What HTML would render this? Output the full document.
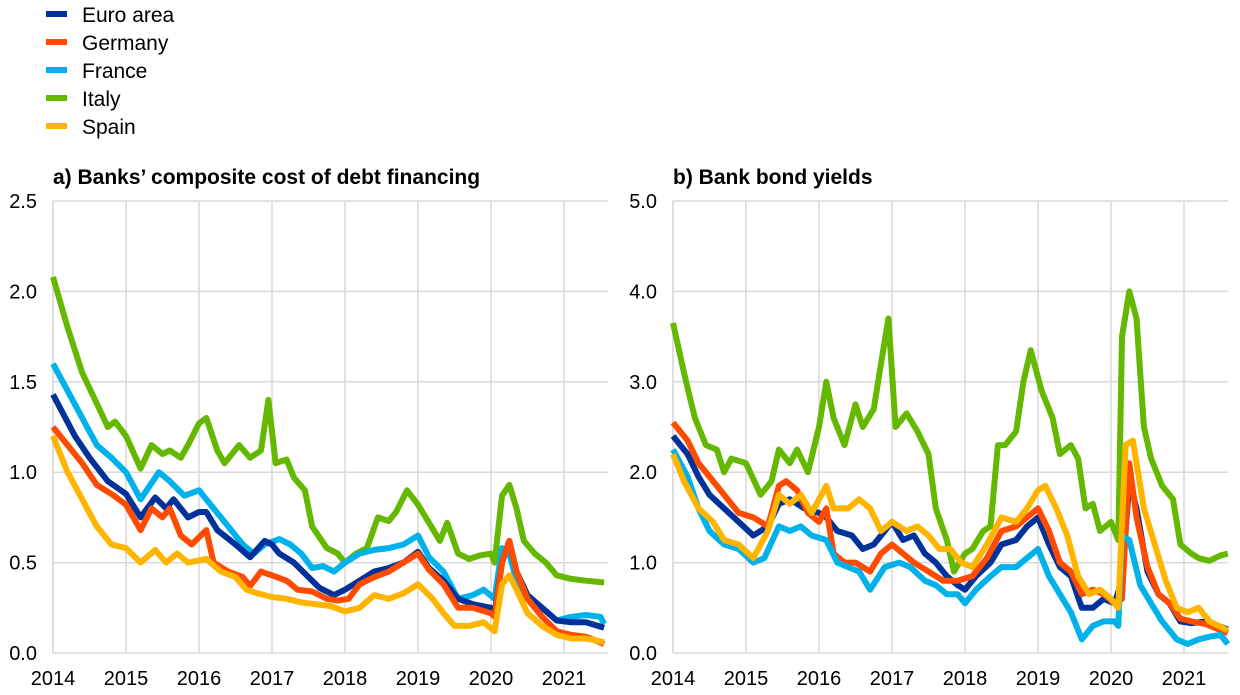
<!DOCTYPE html>
<html><head><meta charset="utf-8"><style>
body{margin:0;background:#fff;}
svg{display:block;font-family:"Liberation Sans",Arial,sans-serif;}
</style></head><body>
<svg id="s" width="1240" height="695" viewBox="0 0 1240 695" xmlns="http://www.w3.org/2000/svg">
<g font-size="21" fill="#000">
<line x1="46" y1="14" x2="67" y2="14" stroke="#003299" stroke-width="6"/><text x="82" y="22">Euro area</text>
<line x1="46" y1="42" x2="67" y2="42" stroke="#FF4B00" stroke-width="6"/><text x="82" y="50">Germany</text>
<line x1="46" y1="70" x2="67" y2="70" stroke="#00B1EA" stroke-width="6"/><text x="82" y="78">France</text>
<line x1="46" y1="98" x2="67" y2="98" stroke="#65B800" stroke-width="6"/><text x="82" y="106">Italy</text>
<line x1="46" y1="126" x2="67" y2="126" stroke="#FFB400" stroke-width="6"/><text x="82" y="134">Spain</text>
<text x="53" y="184" font-weight="bold">a) Banks’ composite cost of debt financing</text>
<text x="673" y="184" font-weight="bold">b) Bank bond yields</text>
</g>
<g id="g"></g>
</svg>
<script>
var NS="http://www.w3.org/2000/svg",g=document.getElementById("g");
function el(t,a,txt){var e=document.createElementNS(NS,t);for(var k in a)e.setAttribute(k,a[k]);if(txt!=null)e.textContent=txt;g.appendChild(e);return e;}
function panel(x0,right,max,step,labels,series){
  var sc=452/max;
  for(var i=0;i<=5;i++){var y=653-i*step*sc;el("line",{x1:x0,y1:y,x2:right,y2:y,stroke:"#d9d9d9","stroke-width":1.5});
    el("text",{x:x0-16,y:y+7,"text-anchor":"end","font-size":20},labels[i]);}
  for(var yr=0;yr<=7;yr++){var x=x0+73*yr;el("line",{x1:x,y1:201,x2:x,y2:653,stroke:"#d9d9d9","stroke-width":1.5});
    el("text",{x:x,y:685,"text-anchor":"middle","font-size":20},2014+yr);}
  el("line",{x1:x0,y1:201,x2:x0,y2:653,stroke:"#d9d9d9","stroke-width":1.5});
  series.forEach(function(s){var p=[];for(var i=0;i<s[1].length;i+=2)p.push((x0+73*(s[1][i]-2014)).toFixed(1)+","+(653-s[1][i+1]*sc).toFixed(1));
    el("polyline",{points:p.join(" "),fill:"none",stroke:s[0],"stroke-width":6,"stroke-linejoin":"round"});});
}
var L=[
["#65B800",[2014,2.08,2014.2,1.8,2014.4,1.55,2014.6,1.38,2014.75,1.25,2014.85,1.28,2015,1.2,2015.2,1.02,2015.35,1.15,2015.5,1.1,2015.6,1.12,2015.75,1.08,2015.85,1.15,2016,1.27,2016.1,1.3,2016.25,1.12,2016.35,1.05,2016.55,1.15,2016.7,1.08,2016.85,1.12,2016.95,1.4,2017.05,1.05,2017.2,1.07,2017.3,0.97,2017.45,0.9,2017.55,0.7,2017.75,0.58,2017.9,0.55,2018,0.5,2018.15,0.55,2018.3,0.58,2018.45,0.75,2018.6,0.73,2018.7,0.78,2018.85,0.9,2019,0.82,2019.15,0.72,2019.3,0.62,2019.4,0.72,2019.55,0.55,2019.7,0.52,2019.85,0.54,2020,0.55,2020.05,0.5,2020.15,0.87,2020.25,0.93,2020.35,0.8,2020.45,0.62,2020.6,0.55,2020.75,0.5,2020.9,0.43,2021.1,0.41,2021.3,0.4,2021.55,0.39]],
["#00B1EA",[2014,1.6,2014.2,1.45,2014.4,1.3,2014.6,1.15,2014.8,1.08,2015,1,2015.2,0.85,2015.45,1,2015.6,0.95,2015.8,0.87,2016,0.9,2016.2,0.8,2016.4,0.7,2016.6,0.6,2016.75,0.55,2016.9,0.6,2017.1,0.63,2017.25,0.6,2017.4,0.55,2017.55,0.47,2017.7,0.48,2017.85,0.45,2018,0.5,2018.2,0.55,2018.4,0.57,2018.6,0.58,2018.8,0.6,2019,0.65,2019.15,0.53,2019.35,0.45,2019.55,0.3,2019.75,0.32,2019.9,0.35,2020.05,0.3,2020.15,0.58,2020.25,0.55,2020.35,0.4,2020.5,0.3,2020.7,0.25,2020.9,0.18,2021.1,0.2,2021.3,0.21,2021.5,0.2,2021.55,0.16]],
["#003299",[2014,1.43,2014.3,1.2,2014.5,1.08,2014.75,0.95,2015,0.88,2015.2,0.75,2015.4,0.86,2015.55,0.8,2015.65,0.85,2015.85,0.75,2016,0.78,2016.1,0.78,2016.25,0.68,2016.5,0.6,2016.7,0.53,2016.9,0.62,2017,0.6,2017.1,0.55,2017.3,0.5,2017.5,0.42,2017.65,0.36,2017.85,0.32,2018,0.35,2018.2,0.4,2018.4,0.45,2018.6,0.47,2018.8,0.5,2019,0.56,2019.15,0.47,2019.35,0.4,2019.55,0.3,2019.75,0.27,2020,0.25,2020.05,0.22,2020.15,0.5,2020.25,0.62,2020.35,0.45,2020.5,0.32,2020.7,0.25,2020.9,0.18,2021.1,0.17,2021.3,0.17,2021.55,0.14]],
["#FF4B00",[2014,1.25,2014.2,1.15,2014.4,1.05,2014.6,0.93,2014.8,0.88,2015,0.82,2015.2,0.68,2015.35,0.8,2015.5,0.75,2015.6,0.8,2015.75,0.65,2015.9,0.6,2016.1,0.68,2016.2,0.5,2016.4,0.45,2016.6,0.42,2016.7,0.37,2016.85,0.45,2017,0.43,2017.2,0.4,2017.35,0.35,2017.55,0.34,2017.75,0.3,2017.9,0.29,2018.05,0.3,2018.2,0.38,2018.4,0.42,2018.6,0.45,2018.8,0.5,2019,0.55,2019.15,0.46,2019.35,0.38,2019.55,0.25,2019.75,0.25,2020,0.22,2020.05,0.2,2020.15,0.5,2020.25,0.62,2020.35,0.45,2020.5,0.3,2020.7,0.2,2020.9,0.12,2021.1,0.1,2021.3,0.09,2021.55,0.05]],
["#FFB400",[2014,1.2,2014.2,1,2014.4,0.85,2014.6,0.7,2014.8,0.6,2015,0.58,2015.2,0.5,2015.4,0.57,2015.55,0.5,2015.7,0.55,2015.85,0.5,2016.1,0.52,2016.3,0.45,2016.5,0.42,2016.65,0.35,2016.8,0.33,2017,0.31,2017.2,0.3,2017.4,0.28,2017.6,0.27,2017.8,0.26,2018,0.23,2018.2,0.25,2018.4,0.32,2018.6,0.3,2018.8,0.33,2019,0.38,2019.2,0.3,2019.35,0.22,2019.5,0.15,2019.7,0.15,2019.9,0.17,2020.05,0.12,2020.15,0.38,2020.25,0.43,2020.35,0.35,2020.5,0.22,2020.7,0.15,2020.9,0.1,2021.1,0.08,2021.3,0.08,2021.55,0.06]]];
var R=[
["#65B800",[2014,3.65,2014.15,3.1,2014.3,2.6,2014.45,2.3,2014.6,2.25,2014.7,2,2014.8,2.15,2015,2.1,2015.2,1.75,2015.35,1.9,2015.45,2.25,2015.6,2.1,2015.7,2.25,2015.85,2,2016,2.5,2016.1,3,2016.2,2.6,2016.35,2.3,2016.5,2.75,2016.6,2.5,2016.75,2.7,2016.85,3.2,2016.95,3.7,2017.05,2.5,2017.2,2.65,2017.35,2.45,2017.5,2.2,2017.6,1.6,2017.75,1.25,2017.85,0.9,2018,1.1,2018.1,1.15,2018.25,1.35,2018.35,1.4,2018.45,2.3,2018.55,2.3,2018.7,2.45,2018.8,3,2018.9,3.35,2019.05,2.9,2019.2,2.6,2019.3,2.2,2019.45,2.3,2019.55,2.15,2019.65,1.6,2019.75,1.65,2019.85,1.35,2020,1.45,2020.1,1.25,2020.15,3.5,2020.25,4,2020.35,3.7,2020.45,2.5,2020.55,2.15,2020.7,1.85,2020.85,1.7,2020.95,1.2,2021.1,1.1,2021.2,1.05,2021.35,1.02,2021.5,1.08,2021.6,1.1]],
["#003299",[2014,2.4,2014.2,2.2,2014.35,1.95,2014.5,1.75,2014.7,1.6,2014.9,1.45,2015.1,1.3,2015.3,1.4,2015.45,1.65,2015.6,1.7,2015.8,1.6,2016,1.55,2016.1,1.5,2016.25,1.35,2016.45,1.3,2016.6,1.15,2016.75,1.2,2016.9,1.35,2017,1.45,2017.15,1.25,2017.3,1.3,2017.45,1.1,2017.6,1,2017.75,0.85,2017.9,0.75,2018,0.7,2018.15,0.85,2018.35,1,2018.5,1.2,2018.7,1.25,2018.85,1.4,2019,1.5,2019.15,1.2,2019.3,0.95,2019.45,0.85,2019.6,0.5,2019.75,0.5,2019.9,0.6,2020.05,0.55,2020.15,0.8,2020.25,1.9,2020.35,1.6,2020.5,0.9,2020.65,0.65,2020.8,0.55,2020.95,0.35,2021.1,0.33,2021.3,0.35,2021.6,0.26]],
["#FF4B00",[2014,2.55,2014.2,2.35,2014.35,2.1,2014.5,1.95,2014.7,1.75,2014.9,1.55,2015.1,1.5,2015.3,1.4,2015.45,1.85,2015.55,1.9,2015.7,1.8,2015.85,1.55,2016,1.45,2016.1,1.6,2016.2,1.1,2016.35,1,2016.5,1,2016.7,0.9,2016.85,1.1,2017,1.2,2017.15,1.1,2017.3,1,2017.5,0.9,2017.7,0.8,2017.9,0.8,2018.1,0.85,2018.3,1.05,2018.5,1.35,2018.7,1.4,2018.85,1.5,2019,1.6,2019.15,1.35,2019.3,1,2019.45,0.9,2019.6,0.65,2019.75,0.7,2019.9,0.65,2020.05,0.55,2020.15,0.6,2020.25,2.1,2020.35,1.5,2020.5,0.95,2020.65,0.65,2020.8,0.55,2020.95,0.38,2021.1,0.35,2021.3,0.32,2021.6,0.22]],
["#00B1EA",[2014,2.25,2014.2,1.95,2014.35,1.6,2014.5,1.35,2014.7,1.2,2014.9,1.15,2015.1,1,2015.25,1.05,2015.45,1.4,2015.6,1.35,2015.75,1.4,2015.9,1.3,2016.1,1.25,2016.25,1,2016.4,0.95,2016.55,0.9,2016.7,0.7,2016.9,0.95,2017.1,1,2017.25,0.95,2017.45,0.8,2017.6,0.75,2017.75,0.65,2017.9,0.65,2018,0.55,2018.15,0.7,2018.35,0.85,2018.5,0.95,2018.7,0.95,2018.85,1.05,2019,1.15,2019.15,0.85,2019.3,0.65,2019.45,0.45,2019.6,0.15,2019.75,0.3,2019.9,0.35,2020.05,0.35,2020.1,0.3,2020.15,1.3,2020.25,1.25,2020.4,0.75,2020.55,0.55,2020.7,0.35,2020.9,0.15,2021.05,0.1,2021.2,0.15,2021.35,0.18,2021.5,0.2,2021.6,0.1]],
["#FFB400",[2014,2.2,2014.15,1.9,2014.35,1.6,2014.55,1.45,2014.7,1.25,2014.9,1.2,2015.1,1.05,2015.3,1.35,2015.45,1.75,2015.6,1.65,2015.75,1.75,2015.9,1.55,2016.1,1.85,2016.2,1.6,2016.4,1.6,2016.55,1.7,2016.7,1.6,2016.85,1.35,2017,1.45,2017.2,1.35,2017.35,1.4,2017.5,1.3,2017.65,1.15,2017.8,1.15,2017.95,1,2018.1,0.95,2018.3,1.2,2018.5,1.5,2018.7,1.45,2018.85,1.6,2019,1.8,2019.1,1.85,2019.25,1.6,2019.4,1.3,2019.55,0.85,2019.7,0.65,2019.85,0.7,2020,0.6,2020.1,0.5,2020.2,2.3,2020.3,2.35,2020.45,1.6,2020.6,1.2,2020.75,0.8,2020.9,0.5,2021.05,0.45,2021.2,0.5,2021.35,0.35,2021.6,0.25]]];
panel(53,608,2.5,0.5,["0.0","0.5","1.0","1.5","2.0","2.5"],L);
panel(673,1228,5,1,["0.0","1.0","2.0","3.0","4.0","5.0"],R);
</script>
</body></html>
